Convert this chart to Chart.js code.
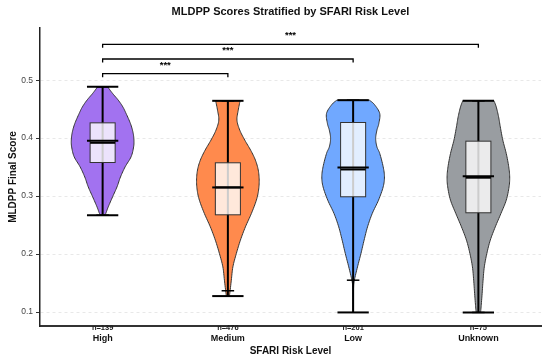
<!DOCTYPE html>
<html>
<head>
<meta charset="utf-8">
<script src="https://cdn.jsdelivr.net/npm/chart.js@4.4.0/dist/chart.umd.min.js"></script>
<style>
  html, body { margin: 0; padding: 0; background: #fff; }
  #wrap { width: 550px; height: 360px; }
</style>
</head>
<body>
<div id="wrap"><canvas id="violinChart"></canvas></div>
<script>
// Categorias y tamanos de muestra
const categories = ["High", "Medium", "Low", "Unknown"];
const counts = [139, 476, 201, 75];
const colors = ["#A272F0", "#FF8A4D", "#70A8FF", "#999DA1"];

// Estadisticos del boxplot
const q1 = [0.358, 0.2678, 0.2989, 0.2713];
const q3 = [0.4264, 0.3575, 0.427, 0.3948];
const boxMedians = [0.392, 0.315, 0.346, 0.3318];
const violinMedians = [0.3955, 0.315, 0.3494, 0.3345];
const whiskerLow = [0.2672, 0.1368, 0.155, 0.0994];
const whiskerHigh = [0.4885, 0.4644, 0.4655, 0.4644];
const minValues = [0.2672, 0.1276, 0.0994, 0.0994];
const maxValues = [0.4885, 0.4644, 0.4655, 0.4644];

// Perfil de densidad de cada violin: [valor, ancho relativo]
const densityHigh = [
  [0.4885, 0.16], [0.477, 0.32], [0.4655, 0.50], [0.454, 0.645], [0.4425, 0.75],
  [0.425, 0.89], [0.410, 0.97], [0.397, 1.0], [0.385, 0.99], [0.368, 0.91],
  [0.3506, 0.72], [0.333, 0.57], [0.316, 0.46], [0.299, 0.32], [0.2816, 0.18],
  [0.270, 0.10], [0.2672, 0.06]
];
const densityMedium = [
  [0.4644, 0.39], [0.448, 0.33], [0.431, 0.29], [0.4138, 0.38], [0.3966, 0.54],
  [0.379, 0.73], [0.362, 0.88], [0.345, 0.97], [0.3276, 1.0], [0.3103, 0.98],
  [0.293, 0.91], [0.270, 0.75], [0.247, 0.56], [0.224, 0.40], [0.201, 0.27],
  [0.178, 0.16], [0.155, 0.11], [0.132, 0.06], [0.1276, 0.04]
];
const densityLow = [
  [0.4655, 0.52], [0.458, 0.68], [0.4425, 0.85], [0.425, 0.82], [0.4138, 0.76],
  [0.3994, 0.72], [0.385, 0.76], [0.3736, 0.85], [0.3506, 0.96], [0.3333, 1.0],
  [0.316, 0.96], [0.293, 0.81], [0.270, 0.61], [0.247, 0.46], [0.224, 0.35],
  [0.201, 0.25], [0.178, 0.14], [0.155, 0.04], [0.140, 0.012], [0.0994, 0.004]
];
const densityUnknown = [
  [0.4644, 0.50], [0.454, 0.57], [0.437, 0.645], [0.4195, 0.70], [0.3966, 0.78],
  [0.3736, 0.89], [0.3506, 0.97], [0.333, 1.0], [0.316, 0.98], [0.293, 0.89],
  [0.270, 0.72], [0.247, 0.54], [0.224, 0.38], [0.201, 0.27], [0.178, 0.19],
  [0.155, 0.15], [0.132, 0.12], [0.109, 0.087], [0.0994, 0.07]
];
const densities = [densityHigh, densityMedium, densityLow, densityUnknown];

// Comparaciones significativas
const comparisons = [[0, 1], [0, 2], [0, 3]];
const pLabels = ["***", "***", "***"];

const yTicks = [0.1, 0.2, 0.3, 0.4, 0.5];

const FONT = "'Liberation Sans', Arial, sans-serif";

// Curva suave (Catmull-Rom) a traves de los puntos
function smooth(pts, steps) {
  const out = [];
  for (let i = 0; i < pts.length - 1; i++) {
    const p0 = pts[i - 1] || pts[i];
    const p1 = pts[i];
    const p2 = pts[i + 1];
    const p3 = pts[i + 2] || pts[i + 1];
    for (let s = 0; s < steps; s++) {
      const t = s / steps, t2 = t * t, t3 = t2 * t;
      out.push([0, 1].map(k => 0.5 * ((2 * p1[k]) + (-p0[k] + p2[k]) * t +
        (2 * p0[k] - 5 * p1[k] + 4 * p2[k] - p3[k]) * t2 +
        (-p0[k] + 3 * p1[k] - 3 * p2[k] + p3[k]) * t3)));
    }
  }
  out.push(pts[pts.length - 1]);
  return out;
}

function hLine(ctx, x1, x2, yy, w, color) {
  ctx.beginPath();
  ctx.lineWidth = w;
  ctx.strokeStyle = color;
  ctx.moveTo(x1, yy);
  ctx.lineTo(x2, yy);
  ctx.stroke();
}

const violinPlugin = {
  id: "violins",
  afterDatasetsDraw(chart) {
    const { ctx, scales: { x, y } } = chart;
    const unit = x.getPixelForValue(1) - x.getPixelForValue(0);
    const half = 0.25 * unit;      // ancho del violin 0.5
    const capHalf = 0.125 * unit;  // lineas de extremos
    const boxHalf = 0.1 * unit;    // caja 0.2
    const whiskHalf = 0.05 * unit;
    ctx.save();

    densities.forEach((dens, i) => {
      const cx = x.getPixelForValue(i);
      const pts = smooth(dens.map(([v, w]) => [w * half, y.getPixelForValue(v)]), 8);

      // cuerpo del violin
      ctx.beginPath();
      pts.forEach(([dx, py], k) => k === 0 ? ctx.moveTo(cx + dx, py) : ctx.lineTo(cx + dx, py));
      for (let k = pts.length - 1; k >= 0; k--) ctx.lineTo(cx - pts[k][0], pts[k][1]);
      ctx.closePath();
      ctx.fillStyle = colors[i];
      ctx.fill();
      ctx.lineWidth = 1;
      ctx.strokeStyle = "#333";
      ctx.stroke();

      // linea central
      ctx.beginPath();
      ctx.lineWidth = 2;
      ctx.strokeStyle = "#000";
      ctx.moveTo(cx, y.getPixelForValue(maxValues[i]));
      ctx.lineTo(cx, y.getPixelForValue(minValues[i]));
      ctx.stroke();

      // caja semitransparente
      const yTop = y.getPixelForValue(q3[i]);
      const yBot = y.getPixelForValue(q1[i]);
      ctx.fillStyle = "rgba(255,255,255,0.8)";
      ctx.fillRect(cx - boxHalf, yTop, 2 * boxHalf, yBot - yTop);
      ctx.lineWidth = 1;
      ctx.strokeStyle = "#333";
      ctx.strokeRect(cx - boxHalf, yTop, 2 * boxHalf, yBot - yTop);

      // extremos y medianas
      hLine(ctx, cx - capHalf, cx + capHalf, y.getPixelForValue(maxValues[i]), 2, "#000");
      hLine(ctx, cx - capHalf, cx + capHalf, y.getPixelForValue(minValues[i]), 2, "#000");
      hLine(ctx, cx - capHalf, cx + capHalf, y.getPixelForValue(violinMedians[i]), 2, "#000");
      hLine(ctx, cx - boxHalf, cx + boxHalf, y.getPixelForValue(boxMedians[i]), 2, "#000");
      hLine(ctx, cx - whiskHalf, cx + whiskHalf, y.getPixelForValue(whiskerLow[i]), 1.5, "#000");
      hLine(ctx, cx - whiskHalf, cx + whiskHalf, y.getPixelForValue(whiskerHigh[i]), 1.5, "#000");

      // n = ...
      ctx.fillStyle = "#222";
      ctx.font = "bold 7.5px " + FONT;
      ctx.textAlign = "center";
      ctx.textBaseline = "middle";
      ctx.fillText("n=" + counts[i], cx, y.bottom + 2);
    });

    // corchetes de significancia
    const top = Math.max(...maxValues);
    comparisons.forEach(([a, b], k) => {
      const level = top + 0.0227 + k * 0.0253;
      const yl = y.getPixelForValue(level);
      const yd = y.getPixelForValue(level - 0.006);
      const xa = x.getPixelForValue(a);
      const xb = x.getPixelForValue(b);
      ctx.beginPath();
      ctx.lineWidth = 1.3;
      ctx.strokeStyle = "#000";
      ctx.moveTo(xa, yd);
      ctx.lineTo(xa, yl);
      ctx.lineTo(xb, yl);
      ctx.lineTo(xb, yd);
      ctx.stroke();
      ctx.fillStyle = "#000";
      ctx.font = "bold 9.5px " + FONT;
      ctx.textAlign = "center";
      ctx.textBaseline = "alphabetic";
      ctx.fillText(pLabels[k], (xa + xb) / 2, yl - 6);
    });
    ctx.restore();
  }
};

const ctxChart = document.getElementById("violinChart").getContext("2d");
const chart = new Chart(ctxChart, {
  type: "scatter",
  data: {
    datasets: [{
      label: "median",
      data: categories.map((c, i) => ({ x: i, y: boxMedians[i] })),
      pointRadius: 0
    }]
  },
  options: {
    responsive: true,
    maintainAspectRatio: false,
    animation: false,
    devicePixelRatio: 1,
    layout: { padding: { left: 0, right: 9, top: 0, bottom: 0 } },
    plugins: {
      legend: { display: false },
      tooltip: { enabled: false },
      title: {
        display: true,
        fullSize: false,
        text: "MLDPP Scores Stratified by SFARI Risk Level",
        color: "#111",
        font: { family: FONT, size: 11, weight: "bold" },
        padding: { top: 5, bottom: 9.8 }
      }
    },
    scales: {
      x: {
        type: "linear",
        min: -0.5,
        max: 3.5,
        afterBuildTicks: s => { s.ticks = categories.map((c, i) => ({ value: i })); },
        afterFit: s => { s.height = 34; },
        ticks: {
          callback: v => categories[v],
          color: "#111",
          font: { family: FONT, size: 9, weight: "bold" },
          padding: 7,
          maxRotation: 0
        },
        grid: { display: false, drawTicks: false },
        border: { color: "#333", width: 2 },
        title: {
          display: true,
          text: "SFARI Risk Level",
          color: "#111",
          font: { family: FONT, size: 10, weight: "bold" },
          padding: { top: 0, bottom: 3 }
        }
      },
      y: {
        type: "linear",
        min: 0.076,
        max: 0.59,
        afterBuildTicks: s => { s.ticks = yTicks.map(v => ({ value: v })); },
        afterFit: s => { s.width = 40; },
        ticks: {
          callback: v => v.toFixed(1),
          color: "#444",
          font: { family: FONT, size: 8.5 },
          padding: 3
        },
        grid: {
          color: "#e3e3e3",
          lineWidth: 0.8,
          tickColor: "#333",
          tickLength: 4,
          tickWidth: 1,
          tickBorderDash: []
        },
        border: { color: "#222", width: 1.5, dash: [3, 3] },
        title: {
          display: true,
          text: "MLDPP Final Score",
          color: "#111",
          font: { family: FONT, size: 10, weight: "bold" },
          padding: { top: 7, bottom: 0 }
        }
      }
    }
  },
  plugins: [violinPlugin]
});
</script>
</body>
</html>
